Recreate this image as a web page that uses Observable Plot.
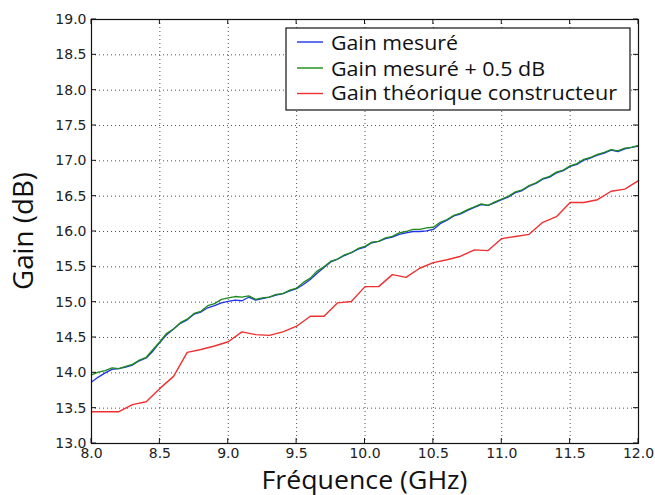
<!DOCTYPE html>
<html>
<head>
<meta charset="utf-8">
<script src="https://cdn.jsdelivr.net/npm/d3@7"></script>
<script src="https://cdn.jsdelivr.net/npm/@observablehq/plot@0.6"></script>
<style>
  html, body { margin: 0; padding: 0; background: #fff; }
</style>
</head>
<body>
<div id="chart"></div>
<script>
// ---------- data ----------
const freqMeas = [8.00,8.05,8.10,8.15,8.20,8.25,8.30,8.35,8.40,8.45,8.50,8.55,8.60,8.65,8.70,8.75,8.80,8.85,8.90,8.95,
  9.00,9.05,9.10,9.15,9.20,9.25,9.30,9.35,9.40,9.45,9.50,9.55,9.60,9.65,9.70,9.75,9.80,9.85,9.90,9.95,
  10.00,10.05,10.10,10.15,10.20,10.25,10.30,10.35,10.40,10.45,10.50,10.55,10.60,10.65,10.70,10.75,10.80,10.85,10.90,10.95,
  11.00,11.05,11.10,11.15,11.20,11.25,11.30,11.35,11.40,11.45,11.50,11.55,11.60,11.65,11.70,11.75,11.80,11.85,11.90,11.95,12.00];
const gainMesure = [13.87,13.94,14.00,14.05,14.06,14.08,14.11,14.17,14.21,14.31,14.43,14.54,14.62,14.70,14.75,14.83,14.86,14.92,14.95,14.99,
  15.01,15.03,15.02,15.07,15.03,15.05,15.07,15.10,15.12,15.16,15.19,15.25,15.32,15.41,15.49,15.57,15.61,15.66,15.70,15.75,
  15.78,15.84,15.86,15.90,15.92,15.96,15.98,16.00,16.00,16.01,16.03,16.11,16.16,16.22,16.25,16.30,16.34,16.38,16.37,16.41,
  16.45,16.49,16.55,16.58,16.64,16.68,16.74,16.77,16.83,16.86,16.92,16.95,17.01,17.04,17.08,17.11,17.15,17.13,17.17,17.19,17.21];
const gainMesurePlus = [13.97,14.01,14.03,14.07,14.06,14.09,14.12,14.18,14.22,14.33,14.44,14.56,14.62,14.71,14.76,14.84,14.87,14.95,14.98,15.04,
  15.06,15.08,15.07,15.09,15.04,15.06,15.07,15.11,15.12,15.17,15.20,15.28,15.34,15.44,15.50,15.58,15.61,15.67,15.70,15.76,
  15.79,15.85,15.86,15.91,15.93,15.98,16.00,16.03,16.03,16.05,16.06,16.13,16.17,16.23,16.26,16.31,16.35,16.39,16.37,16.42,
  16.46,16.50,16.56,16.59,16.65,16.69,16.75,16.78,16.84,16.87,16.93,16.96,17.02,17.05,17.09,17.12,17.16,17.14,17.18,17.19,17.22];
const freqTheo = [8.0,8.1,8.2,8.3,8.4,8.5,8.6,8.7,8.8,8.9,9.0,9.1,9.2,9.3,9.4,9.5,9.6,9.7,9.8,9.9,
  10.0,10.1,10.2,10.3,10.4,10.5,10.6,10.7,10.8,10.9,11.0,11.1,11.2,11.3,11.4,11.5,11.6,11.7,11.8,11.9,12.0];
const gainTheorique = [13.45,13.45,13.45,13.55,13.59,13.78,13.95,14.29,14.33,14.38,14.44,14.58,14.54,14.53,14.58,14.66,14.80,14.80,14.99,15.01,
  15.22,15.22,15.39,15.35,15.48,15.56,15.60,15.65,15.74,15.73,15.90,15.93,15.96,16.13,16.21,16.41,16.41,16.45,16.57,16.60,16.72];
const xTicks = [8.0,8.5,9.0,9.5,10.0,10.5,11.0,11.5,12.0];
const yTicks = [13.0,13.5,14.0,14.5,15.0,15.5,16.0,16.5,17.0,17.5,18.0,18.5,19.0];
const seriesNames = ["Gain mesuré", "Gain mesuré + 0.5 dB", "Gain théorique constructeur"];
const seriesColors = ["#1f33e8", "#1c8a1c", "#f03030"];
const xLabel = "Fréquence (GHz)";
const yLabel = "Gain (dB)";

const meas = freqMeas.map((f, i) => ({f, g: gainMesure[i]}));
const measPlus = freqMeas.map((f, i) => ({f, g: gainMesurePlus[i]}));
const theo = freqTheo.map((f, i) => ({f, g: gainTheorique[i]}));

const chart = Plot.plot({
  width: 655, height: 495,
  marginLeft: 91, marginRight: 17, marginTop: 19, marginBottom: 52,
  x: {domain: [8, 12]},
  y: {domain: [13, 19]},
  style: {fontFamily: "DejaVu Sans, sans-serif", fontSize: "14px", color: "#222", background: "#fff"},
  marks: [
    Plot.gridX(xTicks, {stroke: "#333", strokeOpacity: 0.85, strokeDasharray: "1,3", strokeWidth: 1}),
    Plot.gridY(yTicks, {stroke: "#333", strokeOpacity: 0.85, strokeDasharray: "1,3", strokeWidth: 1}),
    Plot.line(meas, {x: "f", y: "g", stroke: seriesColors[0], strokeWidth: 1.3}),
    Plot.line(measPlus, {x: "f", y: "g", stroke: seriesColors[1], strokeWidth: 1.3}),
    Plot.line(theo, {x: "f", y: "g", stroke: seriesColors[2], strokeWidth: 1.4}),
    Plot.frame({stroke: "#111", strokeWidth: 1.2}),
    Plot.axisX(xTicks, {tickSize: 0, tickPadding: 5, tickFormat: d3.format(".1f"), label: null, fontSize: 14}),
    Plot.axisY(yTicks, {tickSize: 0, tickPadding: 5, tickFormat: d3.format(".1f"), label: null, fontSize: 14})
  ]
});
document.getElementById("chart").appendChild(chart);

// inward ticks, legend and axis titles positioned with the plot's own scales
const sx = chart.scale("x"), sy = chart.scale("y");
const svg = d3.select(chart);
const x0 = sx.apply(8), x1 = sx.apply(12), y0 = sy.apply(13), y1 = sy.apply(19);
const tg = svg.append("g").attr("stroke", "#111").attr("stroke-width", 1);
xTicks.forEach(t => {
  const px = sx.apply(t);
  tg.append("line").attr("x1", px).attr("x2", px).attr("y1", y0).attr("y2", y0 - 5);
  tg.append("line").attr("x1", px).attr("x2", px).attr("y1", y1).attr("y2", y1 + 5);
});
yTicks.forEach(t => {
  const py = sy.apply(t);
  tg.append("line").attr("x1", x0).attr("x2", x0 + 5).attr("y1", py).attr("y2", py);
  tg.append("line").attr("x1", x1).attr("x2", x1 - 5).attr("y1", py).attr("y2", py);
});

const labelFont = "'Open Sans', 'Noto Sans', sans-serif";
svg.append("text")
  .attr("x", (x0 + x1) / 2).attr("y", 488.5)
  .attr("text-anchor", "middle")
  .attr("font-family", labelFont).attr("font-size", 26)
  .attr("fill", "#111")
  .attr("textLength", 206).attr("lengthAdjust", "spacingAndGlyphs")
  .text(xLabel);
svg.append("text")
  .attr("transform", `translate(33,${(y0 + y1) / 2}) rotate(-90)`)
  .attr("text-anchor", "middle")
  .attr("font-family", labelFont).attr("font-size", 27)
  .attr("fill", "#111")
  .attr("textLength", 118).attr("lengthAdjust", "spacingAndGlyphs")
  .text(yLabel);

// legend
const lg = svg.append("g");
lg.append("rect").attr("x", 286).attr("y", 28).attr("width", 344).attr("height", 82)
  .attr("fill", "#fff").attr("stroke", "#111").attr("stroke-width", 1.2);
const legLineY = [42, 68, 93.5];
const legTextY = [49.5, 75.5, 100];
const legTextW = [127, 214, 286];
seriesNames.forEach((name, i) => {
  lg.append("line").attr("x1", 297).attr("x2", 323).attr("y1", legLineY[i]).attr("y2", legLineY[i])
    .attr("stroke", seriesColors[i]).attr("stroke-width", 1.4);
  lg.append("text").attr("x", 331).attr("y", legTextY[i])
    .attr("text-anchor", "start")
    .attr("font-family", labelFont).attr("font-size", 20).attr("fill", "#111")
    .attr("textLength", legTextW[i]).attr("lengthAdjust", "spacingAndGlyphs")
    .text(name);
});
</script>
</body>
</html>
